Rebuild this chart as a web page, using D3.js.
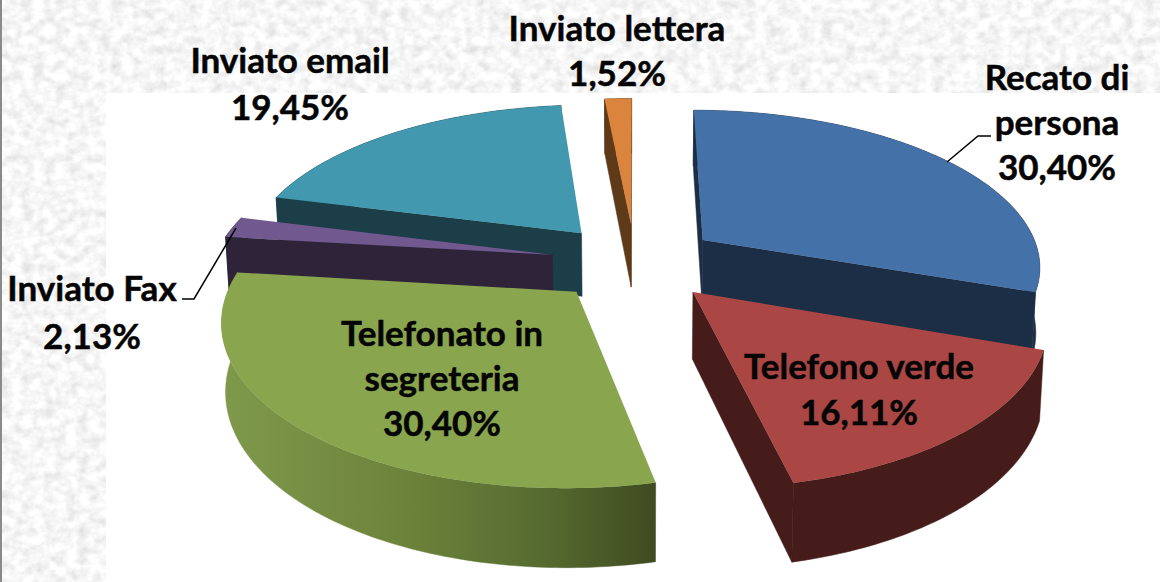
<!DOCTYPE html>
<html>
<head>
<meta charset="utf-8">
<script src="https://d3js.org/d3.v7.min.js"></script>
<style>
  html, body { margin: 0; padding: 0; background: #fff; overflow: hidden; }
  text { font-family: Lato, "Open Sans", sans-serif; font-weight: 700; fill: #050505; stroke: #050505; stroke-width: 0.5px; }
</style>
</head>
<body>
<div id="chart"></div>
<script>
  const categories = ["Recato di persona", "Telefono verde", "Telefonato in segreteria", "Inviato Fax", "Inviato email", "Inviato lettera"];
  const values = [30.40, 16.11, 30.40, 2.13, 19.45, 1.52];
  const topColors = ["#4571a9", "#aa4644", "#89a54e", "#71588f", "#4198af", "#db843d"];
  const wallColors = ["#1c2e45", "#451c19", "url(#greenWall)", "#2e2339", "#1b3e49", "#5f3a18"];
  const labelLines = [["Recato di", "persona"], ["Telefono verde"], ["Telefonato in", "segreteria"], ["Inviato Fax"], ["Inviato email"], ["Inviato lettera"]];

  const width = 1160;
  const height = 582;

  // projection of the tilted pie
  const cx = 635, cy = 262, fx = 339, fy = 156, persp = 6.5;
  const explode = 0.25, depth = 65, shrink = 0.01;
  const rotation = 0;

  const project = function (X, Z, low) {
    const s = persp / (persp + Z);
    const k = low ? 1 - shrink : 1;
    return [cx + fx * X * s * k, cy - fy * Z * s + (low ? depth * s : 0)];
  };

  const svg = d3.select("#chart").append("svg").attr("width", width).attr("height", height);

  const defs = svg.append("defs");
  const filter = defs.append("filter").attr("id", "marble").attr("x", 0).attr("y", 0).attr("width", "100%").attr("height", "100%");
  filter.append("feTurbulence").attr("type", "fractalNoise").attr("baseFrequency", "0.09 0.11").attr("numOctaves", 3).attr("seed", 4);
  filter.append("feColorMatrix").attr("type", "matrix")
    .attr("values", "0.45 0 0 0 0.7  0.45 0 0 0 0.7  0.45 0 0 0 0.7  0 0 0 0 1");
  filter.append("feGaussianBlur").attr("stdDeviation", 0.6);

  const grad = defs.append("linearGradient").attr("id", "greenWall")
    .attr("gradientUnits", "userSpaceOnUse").attr("x1", 225).attr("x2", 655).attr("y1", 0).attr("y2", 0);
  grad.selectAll("stop").data([[0, "#7f994b"], [0.45, "#6b8139"], [0.75, "#556a2f"], [1, "#3f4b20"]]).join("stop")
    .attr("offset", d => d[0]).attr("stop-color", d => d[1]);

  // textured slide background with the white chart area on top
  svg.append("rect").attr("width", width).attr("height", height).attr("filter", "url(#marble)");
  svg.append("rect").attr("width", 2).attr("height", height).attr("fill", "#8a8a8a");
  svg.append("rect").attr("x", 106).attr("y", 93).attr("width", width - 106).attr("height", height - 93).attr("fill", "#fff");

  const pie = d3.pie().sort(null).startAngle(rotation).endAngle(rotation + 2 * Math.PI);
  const slices = pie(values).map(function (d, i) {
    const mid = (d.startAngle + d.endAngle) / 2;
    return { start: d.startAngle, end: d.endAngle, i: i, ox: explode * Math.sin(mid), oz: explode * Math.cos(mid) };
  });

  const line = d3.line();
  const rim = function (d, low) {
    const angles = d3.range(d.start, d.end, Math.PI / 180).concat([d.end]);
    return angles.map(a => project(d.ox + Math.sin(a), d.oz + Math.cos(a), low));
  };

  const order = slices.slice().sort((a, b) => d3.descending(a.oz, b.oz));
  const g = svg.append("g");

  order.forEach(function (d) {
    const top = rim(d, false);
    const low = rim(d, true);
    const apexTop = project(d.ox, d.oz, false);
    const apexLow = project(d.ox, d.oz, true);
    const wall = wallColors[d.i];

    g.append("path").attr("d", line(top.concat(low.slice().reverse())) + "Z")
      .attr("fill", wall).attr("stroke", wall).attr("stroke-width", 0.5);

    // radial sides, only the ones turned towards the viewer
    const startSide = [apexTop, top[0], low[0], apexLow];
    const endSide = [apexTop, top[top.length - 1], low[low.length - 1], apexLow];
    if (d3.polygonArea(startSide) > 0) g.append("path").attr("d", line(startSide) + "Z").attr("fill", wall).attr("stroke", wall).attr("stroke-width", 0.5);
    if (d3.polygonArea(endSide) < 0) g.append("path").attr("d", line(endSide) + "Z").attr("fill", wall).attr("stroke", wall).attr("stroke-width", 0.5);

    g.append("path").attr("d", line([apexTop].concat(top)) + "Z").attr("fill", topColors[d.i]);
  });

  // leader lines
  const leaders = [[[947, 162], [978, 136], [991, 136]], [[236, 228], [194, 299], [182, 299]]];
  svg.selectAll(".leader").data(leaders).join("path").attr("class", "leader")
    .attr("d", d => line(d)).attr("fill", "none").attr("stroke", "#000").attr("stroke-width", 1.5);

  // labels: centre x and first baseline of each block
  const labelX = [1057, 859, 442, 92, 290, 617];
  const labelY = [90, 379, 346, 301, 73, 41];
  const lineGap = [45, 46, 45, 48, 47, 45];
  const pct = d3.formatLocale({ decimal: ",", thousands: ".", grouping: [3], currency: ["", ""] }).format(".2f");

  categories.forEach(function (name, i) {
    const lines = labelLines[i].concat([pct(values[i]) + "%"]);
    svg.append("g").selectAll("text").data(lines).join("text")
      .attr("x", labelX[i])
      .attr("y", (d, j) => labelY[i] + j * lineGap[i])
      .attr("text-anchor", "middle")
      .attr("font-size", 35)
      .text(d => d);
  });
</script>
</body>
</html>
